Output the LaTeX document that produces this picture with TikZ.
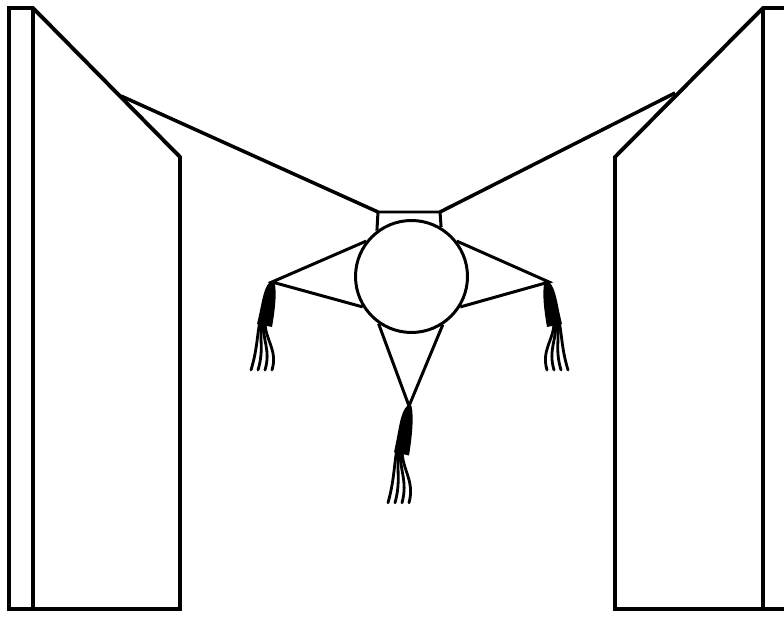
\documentclass[tikz,border=0pt]{standalone}
\usepackage{tikz}

\tikzset{
  wall/.style={line width=2.2pt, line join=miter},
  rope/.style={line width=2pt},
  cord/.style={line width=1.7pt},
  strand/.style={line width=1.6pt, line cap=round},
  % knotted end of a cord: a thick bundle that frays into four strands
  tassel/.pic={
    \fill (-2,0) .. controls (-9,6) and (-10,22) .. (-15,42)
      -- (0,45) .. controls (3,28) and (5,10) .. (2.5,0) -- cycle;
    \foreach \e in {-21,-14,-7,0}
      \draw[strand] (-7+0.25*\e,40) .. controls (-7+0.4*\e,58) and (\e+6,68) .. (\e,88);
  }
}

\begin{document}
\begin{tikzpicture}[x=0.02cm, y=-0.02cm]
\clip (0,0) rectangle (784,617);

% left wall
\draw[wall] (9,8) -- (9,609) -- (180,609) -- (180,157) -- (33,8) -- cycle;
\draw[wall] (33,8) -- (33,609);

% right wall
\draw[wall] (790,8) -- (763,8) -- (615,157) -- (615,609) -- (790,609);
\draw[wall] (763,8) -- (763,609);

% anchor points of the hanging ropes
\coordinate (hookL) at (121,96);
\coordinate (hookR) at (675,93);

% ball with its frame
\node[circle, draw, cord, minimum size=2.24cm, inner sep=0pt] (ball) at (411.5,276.5) {};
\coordinate (frameL) at (378,212);
\coordinate (frameR) at (440,212);
\draw[cord] (ball.127) -- (frameL) -- (frameR) -- (ball.59);

\draw[rope] (hookL) -- (frameL);
\draw[rope] (hookR) -- (frameR);

% three points of the star
\coordinate (tipL) at (272,282);
\coordinate (tipR) at (549,282);
\coordinate (tipB) at (409,406);

\draw[cord] (ball.142) -- (tipL) -- (ball.212);
\draw[cord] (ball.38) -- (tipR) -- (ball.328);
\draw[cord] (ball.235) -- (tipB) -- (ball.303);

% tassels hanging from the points
\pic at (tipL) {tassel};
\pic[xscale=-1] at ([xshift=-0.04cm]tipR) {tassel};
\pic[yscale=1.1] at (tipB) {tassel};
\end{tikzpicture}
\end{document}
